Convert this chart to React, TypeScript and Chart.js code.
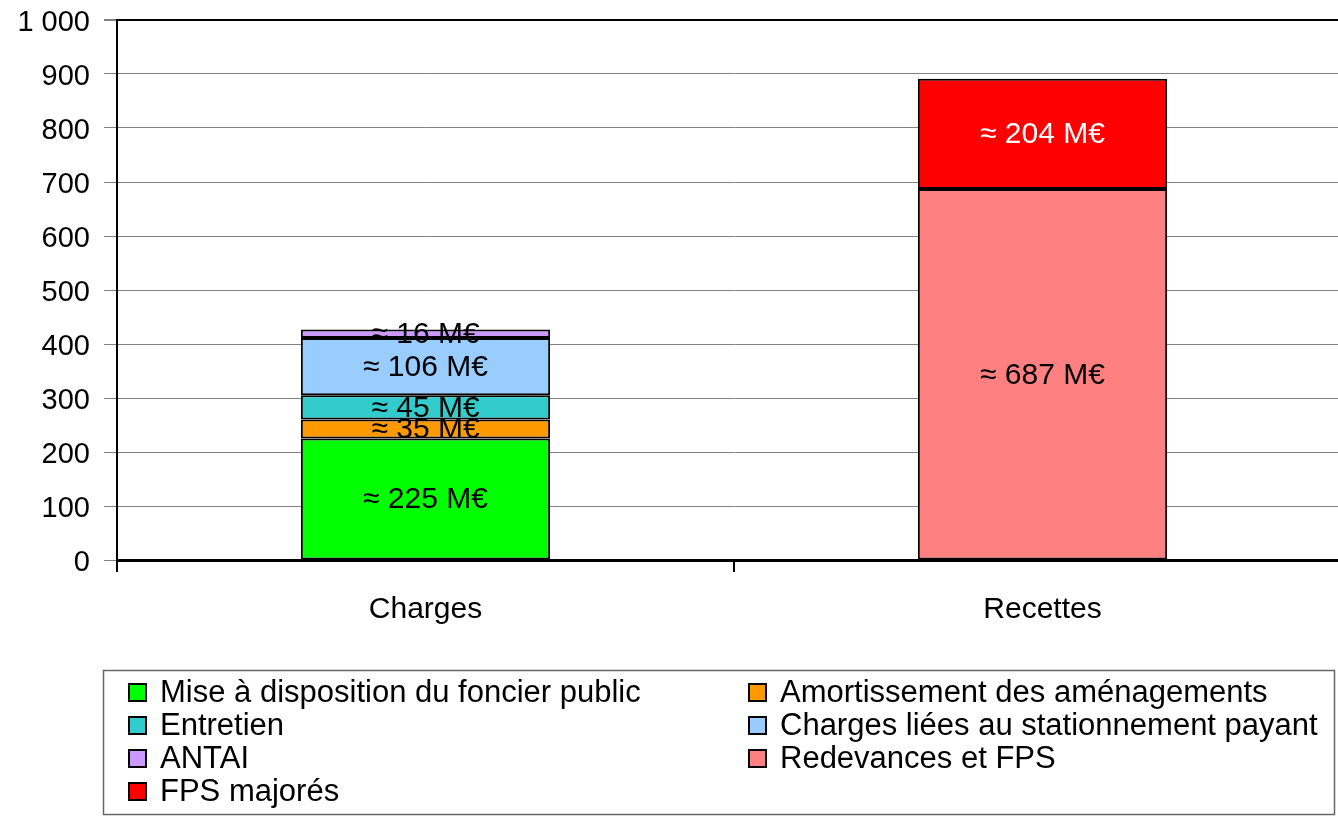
import React, { useEffect, useRef } from "react";
import { Chart, registerables } from "chart.js";

Chart.register(...registerables);

const categories = ["Charges", "Recettes"];
const seriesNames = [
  "Mise à disposition du foncier public",
  "Amortissement des aménagements",
  "Entretien",
  "Charges liées au stationnement payant",
  "ANTAI",
  "Redevances et FPS",
  "FPS majorés",
];
const foncier = [225, null];
const amortissement = [35, null];
const entretien = [45, null];
const chargesStationnement = [106, null];
const antai = [16, null];
const redevances = [null, 687];
const fpsMajores = [null, 204];
const seriesColors = ["#00FF00", "#FF9900", "#33CCCC", "#99CCFF", "#CC99FF", "#FF8080", "#FF0000"];
const labelColors = ["#000", "#000", "#000", "#000", "#000", "#000", "#FFF"];
const yTicks = [0, 100, 200, 300, 400, 500, 600, 700, 800, 900, 1000];

const FONT = "'Liberation Sans', Arial, sans-serif";

const formatThousands = (v: number) =>
  String(v).replace(/\B(?=(\d{3})+(?!\d))/g, " ");

const barLabelPlugin = {
  id: "barLabels",
  afterDatasetsDraw(chart: any) {
    const ctx = chart.ctx;
    ctx.save();
    ctx.font = `30px ${FONT}`;
    ctx.textAlign = "center";
    ctx.textBaseline = "middle";
    chart.data.datasets.forEach((ds: any, i: number) => {
      const meta = chart.getDatasetMeta(i);
      meta.data.forEach((el: any, j: number) => {
        const v = ds.data[j];
        if (v === null || v === undefined) return;
        const props = el.getProps(["x", "y", "base"], true);
        const cy = (props.y + props.base) / 2;
        ctx.fillStyle = labelColors[i];
        ctx.fillText(`≈ ${v} M€`, props.x, cy + 1);
      });
    });
    ctx.restore();
  },
};

const legendBoxPlugin = {
  id: "legendBox",
  afterDraw(chart: any) {
    const ctx = chart.ctx;
    ctx.save();
    ctx.strokeStyle = "#666";
    ctx.lineWidth = 1.5;
    ctx.strokeRect(103.5, 670.5, 1231, 144);
    ctx.font = `31px ${FONT}`;
    ctx.textBaseline = "middle";
    ctx.textAlign = "left";
    const colX = [129, 749];
    const rowY0 = 692;
    const rowStep = 33;
    chart.data.datasets.forEach((ds: any, i: number) => {
      const col = i % 2;
      const row = Math.floor(i / 2);
      const x = colX[col];
      const y = rowY0 + row * rowStep;
      ctx.fillStyle = ds.backgroundColor;
      ctx.fillRect(x, y - 8, 17, 17);
      ctx.strokeStyle = "#000";
      ctx.lineWidth = 2;
      ctx.strokeRect(x, y - 8, 17, 17);
      ctx.fillStyle = "#000";
      ctx.fillText(ds.label, x + 31, y + 1);
    });
    ctx.restore();
  },
};

export default function App() {
  const canvasRef = useRef<HTMLCanvasElement | null>(null);

  useEffect(() => {
    if (!canvasRef.current) return;
    const seriesValues = [foncier, amortissement, entretien, chargesStationnement, antai, redevances, fpsMajores];
    const chart = new Chart(canvasRef.current, {
      type: "bar",
      data: {
        labels: categories,
        datasets: seriesNames.map((name, i) => ({
          label: name,
          data: seriesValues[i],
          backgroundColor: seriesColors[i],
          borderColor: "#000",
          borderWidth: 2,
          borderSkipped: false,
          barPercentage: 0.404,
          categoryPercentage: 1,
        })),
      },
      options: {
        responsive: false,
        animation: false,
        layout: { padding: { top: 20, right: 1, left: 0, bottom: 0 } },
        plugins: {
          legend: { display: false },
          tooltip: { enabled: false },
        },
        scales: {
          x: {
            stacked: true,
            grid: {
              drawOnChartArea: false,
              drawTicks: true,
              tickLength: 12,
              color: "#000",
              lineWidth: 2,
            },
            border: { display: true, color: "#000", width: 3 },
            ticks: {
              color: "#000",
              font: { family: FONT, size: 30 },
              padding: 20,
            },
            afterFit: (scale: any) => {
              scale.height = 256;
              scale.paddingLeft = 0;
              scale.paddingRight = 0;
            },
          },
          y: {
            stacked: true,
            min: 0,
            max: 1000,
            afterBuildTicks: (scale: any) => {
              scale.ticks = yTicks.map((v) => ({ value: v }));
            },
            grid: {
              color: (c: any) => (c.tick && c.tick.value === 1000 ? "#000" : "#808080"),
              lineWidth: (c: any) => (c.tick && c.tick.value === 1000 ? 2 : 1),
              tickColor: "#808080",
              tickLength: 13,
            },
            border: { display: true, color: "#000", width: 2 },
            ticks: {
              color: "#000",
              font: { family: FONT, size: 29 },
              padding: 14,
              labelOffset: 3,
              callback: (v: any) => formatThousands(Number(v)),
            },
            afterFit: (scale: any) => {
              scale.width = 117;
              scale.paddingTop = 0;
              scale.paddingBottom = 0;
            },
          },
        },
      },
      plugins: [barLabelPlugin, legendBoxPlugin],
    });
    return () => chart.destroy();
  }, []);

  return (
    <div
      style={{
        position: "absolute",
        left: 0,
        top: 0,
        width: 1338,
        height: 816,
        overflow: "hidden",
        background: "#fff",
      }}
    >
      <canvas ref={canvasRef} width={1352} height={816} style={{ width: 1352, height: 816, display: "block" }} />
    </div>
  );
}
